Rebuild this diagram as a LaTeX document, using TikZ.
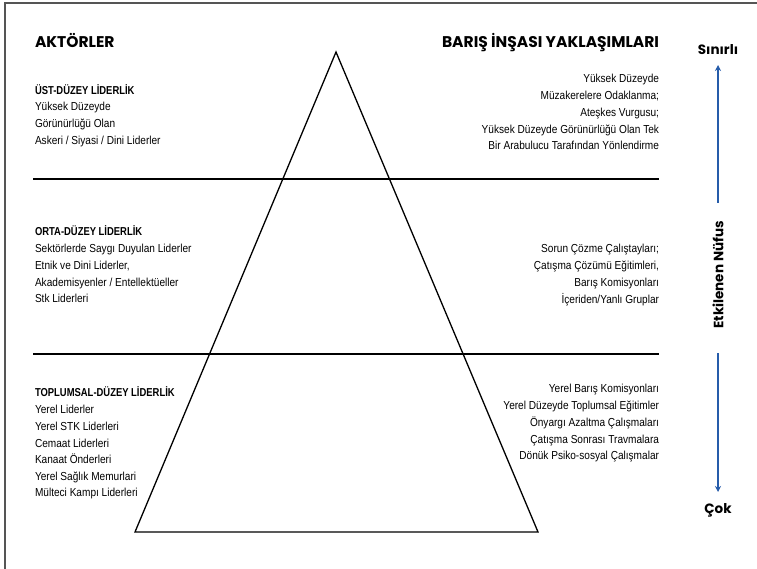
\documentclass[tikz,border=0pt]{standalone}
\usepackage{fontspec}
\setmainfont{Liberation Sans}
\newfontfamily\titlefont{Poppins}
\newfontfamily\bodyfont{Liberation Sans}[FakeStretch=0.87]
\newfontfamily\headfont{Liberation Sans}[FakeStretch=0.82]
\usetikzlibrary{arrows.meta,calc,positioning}
\definecolor{arrowblue}{RGB}{38,92,170}
\definecolor{framegray}{RGB}{85,85,85}

\begin{document}
\begin{tikzpicture}[x=1pt,y=-1pt,inner sep=0pt,outer sep=0pt]
\tikzstyle{title}=[font=\titlefont\bfseries\fontsize{15.5}{18}\selectfont]
\tikzstyle{poplabel}=[font=\titlefont\bfseries\fontsize{13.5}{16}\selectfont]
\tikzstyle{level}=[font=\headfont\bfseries\fontsize{11.5}{14}\selectfont,anchor=base west]
\tikzstyle{lbody}=[font=\bodyfont\fontsize{11.6}{16.6}\selectfont,align=left,anchor=north west,execute at begin node=\strut]
\tikzstyle{rbody}=[font=\bodyfont\fontsize{11.6}{16.8}\selectfont,align=right,anchor=north east,execute at begin node=\strut]
\tikzstyle{sep}=[line width=1.3pt]
\tikzstyle{popul}=[draw=arrowblue,line width=2.6pt,-{Stealth[length=6pt,width=6pt]}]

\useasboundingbox (0,0) rectangle (757,569);
\draw[line width=1.8pt,framegray] (5,569) -- (5,3) -- (757,3);

% pyramid and levels
\draw[sep,line join=miter] (135,532) -- (336,52) -- (538,532) -- cycle;
\draw[sep] (33,179) -- (659,179);
\draw[sep] (33,354) -- (659,354);

% column titles
\node[title,anchor=base west] (actors) at (35,48) {AKTÖRLER};
\node[title,anchor=base east] (approach) at (659,48) {BARIŞ İNŞASI YAKLAŞIMLARI};

% top level (body tops = first baseline - strut height)
\node[level] (top) at (35,95) {ÜST-DÜZEY LİDERLİK};
\node[lbody] (topactors) at ($(top.base west)+(0,19-11.6)$) {Yüksek Düzeyde\\Görünürlüğü Olan\\Askeri / Siyasi / Dini Liderler};
\node[rbody] (topapproach) at (659,86-11.8) {Yüksek Düzeyde\\Müzakerelere Odaklanma;\\Ateşkes Vurgusu;\\Yüksek Düzeyde Görünürlüğü Olan Tek\\Bir Arabulucu Tarafından Yönlendirme};

% middle level
\node[level] (mid) at (35,236) {ORTA-DÜZEY LİDERLİK};
\node[lbody] (midactors) at ($(mid.base west)+(0,20-11.6)$) {Sektörlerde Saygı Duyulan Liderler\\Etnik ve Dini Liderler,\\Akademisyenler / Entellektüeller\\Stk Liderleri};
\node[rbody] (midapproach) at (659,256-11.8) {Sorun Çözme Çalıştayları;\\Çatışma Çözümü Eğitimleri,\\Barış Komisyonları\\İçeriden/Yanlı Gruplar};

% grassroots level
\node[level] (low) at (35,396) {TOPLUMSAL-DÜZEY LİDERLİK};
\node[lbody] (lowactors) at ($(low.base west)+(0,21-11.6)$) {Yerel Liderler\\Yerel STK Liderleri\\Cemaat Liderleri\\Kanaat Önderleri\\Yerel Sağlık Memurlari\\Mülteci Kampı Liderleri};
\node[rbody] (lowapproach) at (659,396-11.8) {Yerel Barış Komisyonları\\Yerel Düzeyde Toplumsal Eğitimler\\Önyargı Azaltma Çalışmaları\\Çatışma Sonrası Travmalara\\Dönük Psiko-sosyal Çalışmalar};

% affected population scale
\node[poplabel,anchor=base] (few) at (718,55) {Sınırlı};
\node[poplabel,anchor=base] (many) at (718,513) {Çok};
\node[poplabel,rotate=90] (popn) at (718,275) {Etkilenen Nüfus};
\coordinate (uptail) at (718,203);
\coordinate (uptip) at (718,65);
\coordinate (downtail) at (718,353);
\coordinate (downtip) at (718,492);
\draw[popul] (uptail) -- (uptip);
\draw[popul] (downtail) -- (downtip);
\end{tikzpicture}
\end{document}
